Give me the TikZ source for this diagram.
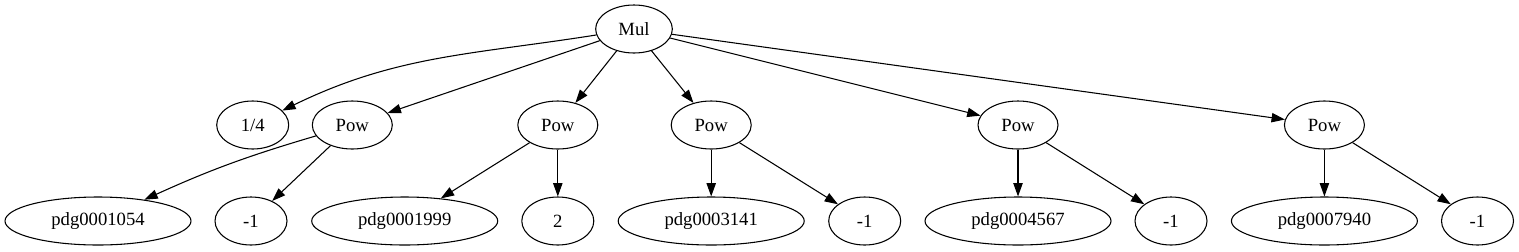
\documentclass[tikz,border=0pt]{standalone}
\usepackage{fontspec}
\setmainfont{Liberation Serif}
\usetikzlibrary{shapes.geometric,arrows.meta}
\begin{document}
\begin{tikzpicture}[x=0.75pt,y=-0.75pt,
  gnode/.style={draw,ellipse,line width=0.8pt,inner sep=0pt,minimum height=36pt,font=\fontsize{14}{16}\selectfont},
  small/.style={gnode,minimum width=54pt},
  mulnode/.style={gnode,minimum width=57.5pt},
  pownode/.style={gnode,minimum width=60pt},
  pdgnode/.style={gnode,minimum width=139.5pt},
  edge/.style={line width=0.8pt,-{Triangle[length=10pt,width=7pt]}}]
\useasboundingbox (0,0) rectangle (1519,251);
\node[mulnode] (mul) at (634,29) {Mul};
\node[small] (q) at (252.7,125) {1/4};
\node[pownode] (p1) at (352.3,125) {Pow};
\node[pownode] (p2) at (557.8,125) {Pow};
\node[pownode] (p3) at (711.2,125) {Pow};
\node[pownode] (p4) at (1018,125) {Pow};
\node[pownode] (p5) at (1324.4,125) {Pow};
\node[pdgnode] (a1) at (98,221) {pdg0001054};
\node[small] (b1) at (251,221) {-1};
\node[pdgnode] (a2) at (404.7,221) {pdg0001999};
\node[small] (b2) at (557.8,221) {2};
\node[pdgnode] (a3) at (711.2,221) {pdg0003141};
\node[small] (b3) at (864.7,221) {-1};
\node[pdgnode] (a4) at (1018,221) {pdg0004567};
\node[small] (b4) at (1171,221) {-1};
\node[pdgnode] (a5) at (1324.4,221) {pdg0007940};
\node[small] (b5) at (1477.5,221) {-1};
\draw[edge] (mul) to[out=189,in=26] (q);
\draw[edge] (mul) -- (p1);
\draw[edge] (mul) -- (p2);
\draw[edge] (mul) -- (p3);
\draw[edge] (mul) -- (p4);
\draw[edge] (mul) -- (p5);
\draw[edge] (p1) to[bend right=4] (a1);
\draw[edge] (p1) -- (b1);
\draw[edge] (p2) -- (a2);
\draw[edge] (p2) -- (b2);
\draw[edge] (p3) -- (a3);
\draw[edge] (p3) -- (b3);
\draw[edge] (p4) -- (a4);
\draw[edge] (p4) -- (b4);
\draw[edge] (p5) -- (a5);
\draw[edge] (p5) -- (b5);
\end{tikzpicture}
\end{document}
